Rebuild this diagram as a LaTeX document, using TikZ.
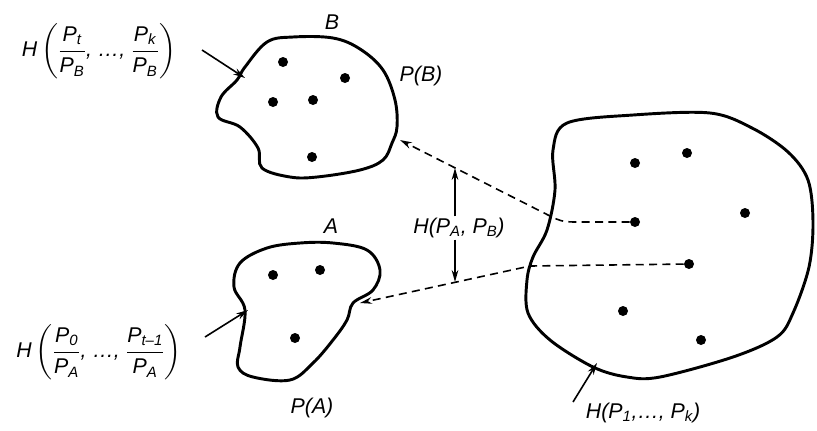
\documentclass[tikz,border=0pt]{standalone}
\usepackage{amsmath}
\usepackage{fontspec}
\setmainfont{Liberation Sans}
\usetikzlibrary{arrows.meta}
\newcommand{\iP}{\text{\itshape P}}
\newcommand{\iH}{\text{\itshape H}}
\newcommand{\sub}[1]{\text{\itshape #1}}
\tikzset{
  blob/.style={line width=2.2pt, line join=round},
  dot/.style={circle, fill=black, inner sep=0pt, minimum size=7.5pt},
  arr/.style={line width=1.2pt, -{Stealth[length=9pt,width=5pt]}},
  dashline/.style={line width=1.2pt, dash pattern=on 6pt off 4pt},
  lab/.style={font=\fontsize{16}{19}\selectfont\itshape, inner sep=1pt}
}
\begin{document}
\begin{tikzpicture}[x=0.75pt,y=-0.75pt]
\path[use as bounding box] (0,0) rectangle (817,430);

% blob B
\draw[blob] plot[smooth cycle, tension=0.6] coordinates {
 (245,67) (267,42) (293,37) (333,38) (360,49) (383,70) (395,100) (397,127)
 (392,143) (383,160) (360,170) (317,177) (290,177) (262,168) (258,148)
 (240,127) (218,117) (221,97) (237,80)};
% blob A
\draw[blob] plot[smooth cycle, tension=0.6] coordinates {
 (234,287) (240,263) (267,248) (300,243) (333,243) (367,250) (380,270)
 (373,290) (353,303) (347,320) (333,340) (313,363) (290,380) (253,377)
 (238,367) (240,347) (245,310)};
% big blob
\draw[blob] plot[smooth cycle, tension=0.55] coordinates {
 (553,150) (567,123) (633,115) (710,113) (752,128) (788,152) (808,180)
 (813,222) (809,267) (793,313) (777,337) (733,357) (660,377) (627,377)
 (593,367) (550,340) (528,313) (527,280) (533,257) (547,230) (555,190)};

% dots in B
\node[dot] (b1) at (283,62) {};
\node[dot] (b2) at (345,78) {};
\node[dot] (b3) at (273,102) {};
\node[dot] (b4) at (313,100) {};
\node[dot] (b5) at (312,157) {};
% dots in A
\node[dot] (a1) at (273,275) {};
\node[dot] (a2) at (320,270) {};
\node[dot] (a3) at (295,338) {};
% dots in big blob
\node[dot] (r1) at (635,163) {};
\node[dot] (r2) at (687,153) {};
\node[dot] (r3) at (745,213) {};
\node[dot] (r4) at (635,222) {};
\node[dot] (r5) at (689,264) {};
\node[dot] (r6) at (623,311) {};
\node[dot] (r7) at (701,340) {};

% labels
\node[lab] (lB) at (332,22) {B};
\node[lab] (lPB) at (421,76) {P(B)};
\node[lab] (lA) at (331,226) {A};
\node[lab] (lPA) at (312,408) {P(A)};
\node[lab] (hB) at (99,51) {$\iH\left(\dfrac{\iP_{\sub{t}}}{\iP_{\sub{B}}}\text{\itshape, \dots, }\dfrac{\iP_{\sub{k}}}{\iP_{\sub{B}}}\right)$};
\node[lab] (hA) at (99,352) {$\iH\left(\dfrac{\iP_{\sub{0}}}{\iP_{\sub{A}}}\text{\itshape, \dots, }\dfrac{\iP_{\sub{t\textendash1}}}{\iP_{\sub{A}}}\right)$};
\node[lab] (hAB) at (459,228) {H(P\textsubscript{\itshape A}, P\textsubscript{\itshape B})};
\node[lab] (hK) at (643,413) {H(P\textsubscript{1},\dots, P\textsubscript{\itshape k})};

% boundary coordinates
\coordinate (bB) at (400,140);
\coordinate (aA) at (360,303);
\coordinate (tB) at (245,78);
\coordinate (tA) at (248,310);
\coordinate (tK) at (597,363);
\coordinate (u1) at (455,168);
\coordinate (u2) at (455,282);

% dashed connectors
\draw[dashline, -{Stealth[length=9pt,width=5pt]}] (r4) -- (575,222)
   .. controls (562,222) and (558,220) .. (550,216) -- (bB);
\draw[dashline, -{Stealth[length=9pt,width=5pt]}] (r5) -- (530,266) -- (aA);

% solid arrows
\draw[arr] (202,50) -- (tB);
\draw[arr] (205,337) -- (tA);
\draw[arr] (573,402) -- (tK);
\draw[arr] (hAB.north -| u1) -- (u1);
\draw[arr] (hAB.south -| u2) -- (u2);
\end{tikzpicture}
\end{document}
